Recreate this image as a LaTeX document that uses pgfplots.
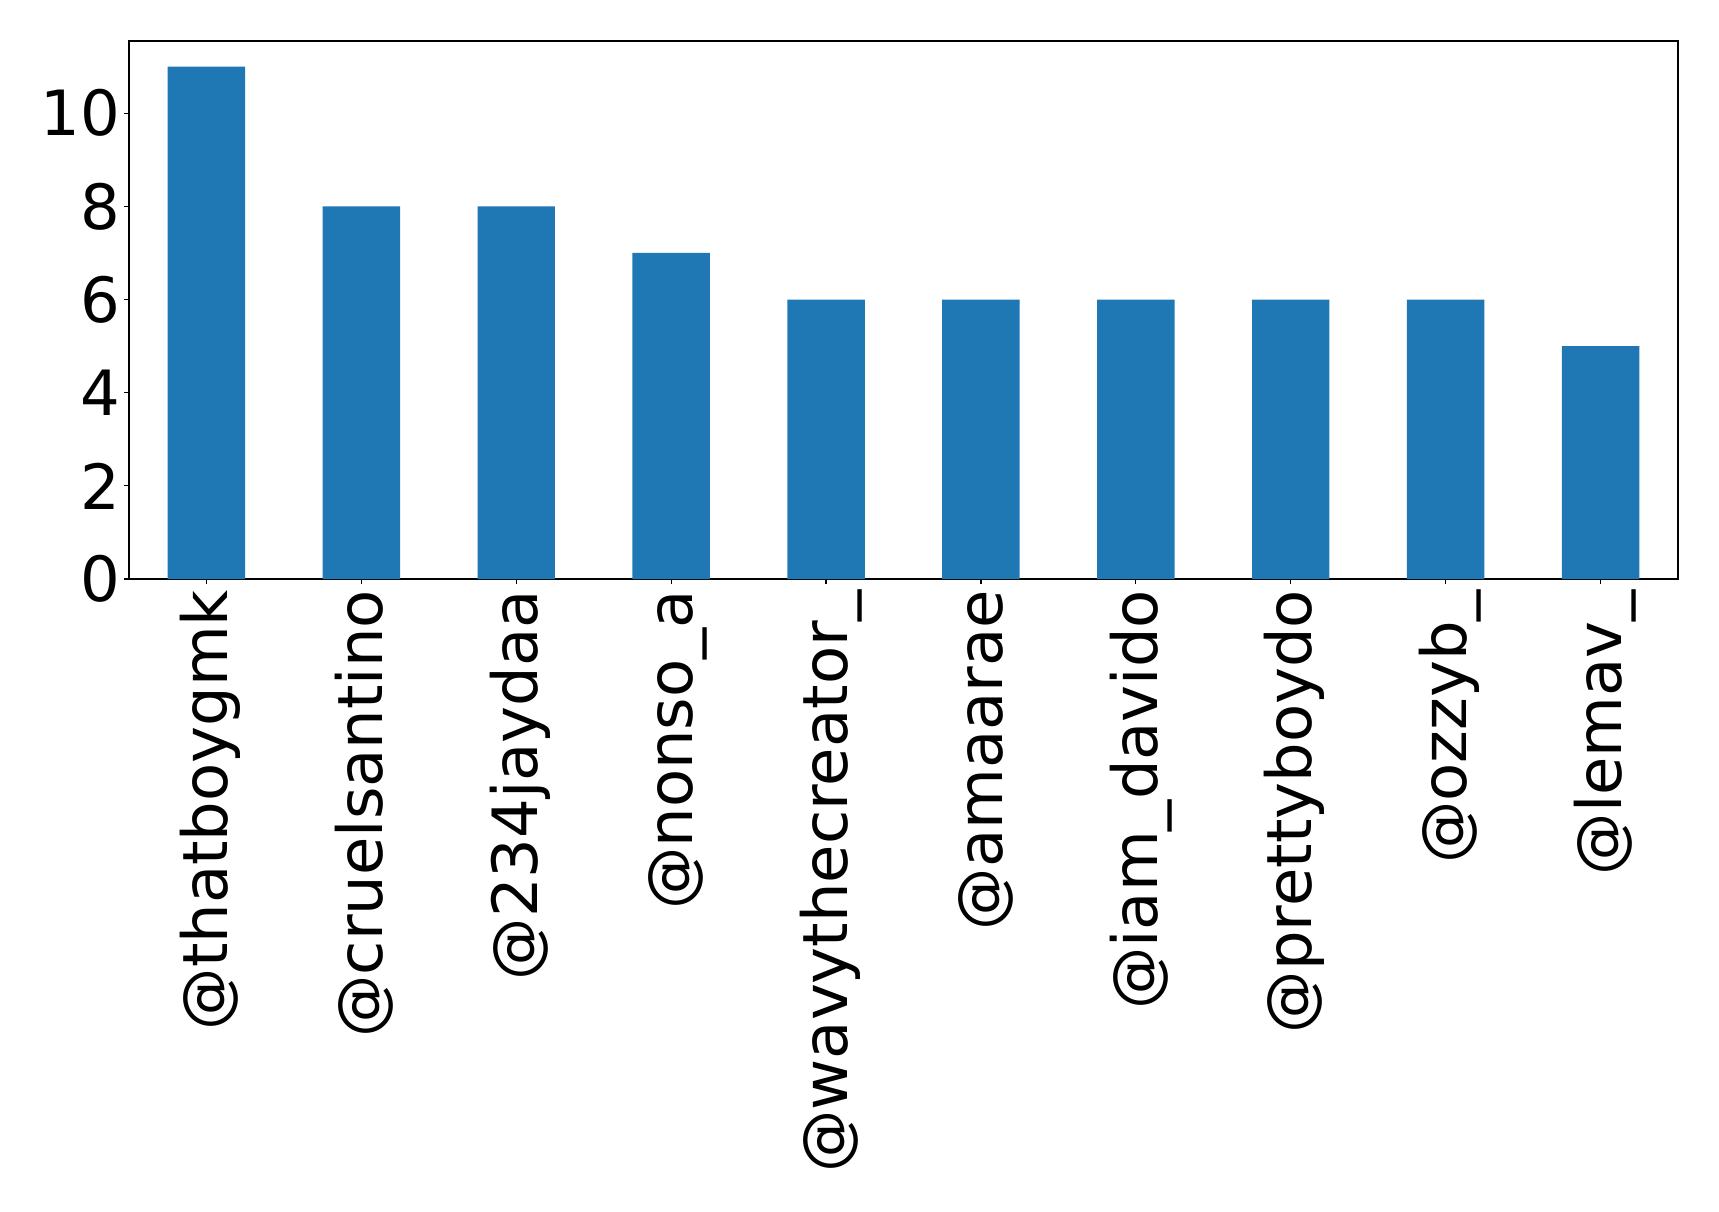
\documentclass[border=0pt]{standalone}
\usepackage{pgfplots}
\pgfplotsset{compat=1.18}
\usepackage{fontspec}
\setmainfont{DejaVu Sans}
\definecolor{mplblue}{HTML}{1F77B4}
\begin{document}
\begin{tikzpicture}
\begin{axis}[
  scale only axis,
  width=387.25pt, height=134.5pt,
  xmin=-0.5, xmax=9.5, ymin=0, ymax=11.55,
  axis line style={line width=0.3pt},
  xtick=data,
  xticklabels={@thatboygmk,@cruelsantino,@234jaydaa,@nonso\_a,@wavythecreator\_,@amaarae,@iam\_davido,@prettyboydo,@ozzyb\_,@lemav\_},
  ytick={0,2,4,6,8,10},
  tick align=outside,
  major tick length=1.25pt,
  tick style={line width=0.3pt, black},
  xtick pos=bottom, ytick pos=left,
  font=\fontsize{15.6pt}{18pt}\selectfont,
  /pgf/number format/assume math mode=true,
  xticklabel style={xshift=2.1pt, yshift=-1.3pt, rotate=90, anchor=east, inner sep=0pt, text height=0.9em, text depth=0.26em},
  yticklabel style={anchor=east, inner sep=0pt, xshift=-0.75pt},
]
\addplot[ybar, bar width=0.5, fill=mplblue, draw=none] coordinates {
(0,11) (1,8) (2,8) (3,7) (4,6) (5,6) (6,6) (7,6) (8,6) (9,5)
};
\end{axis}
\useasboundingbox ([xshift=-32.25pt,yshift=-158.25pt]current axis.south west) rectangle ([xshift=10.25pt,yshift=10.25pt]current axis.north east);
\end{tikzpicture}
\end{document}
